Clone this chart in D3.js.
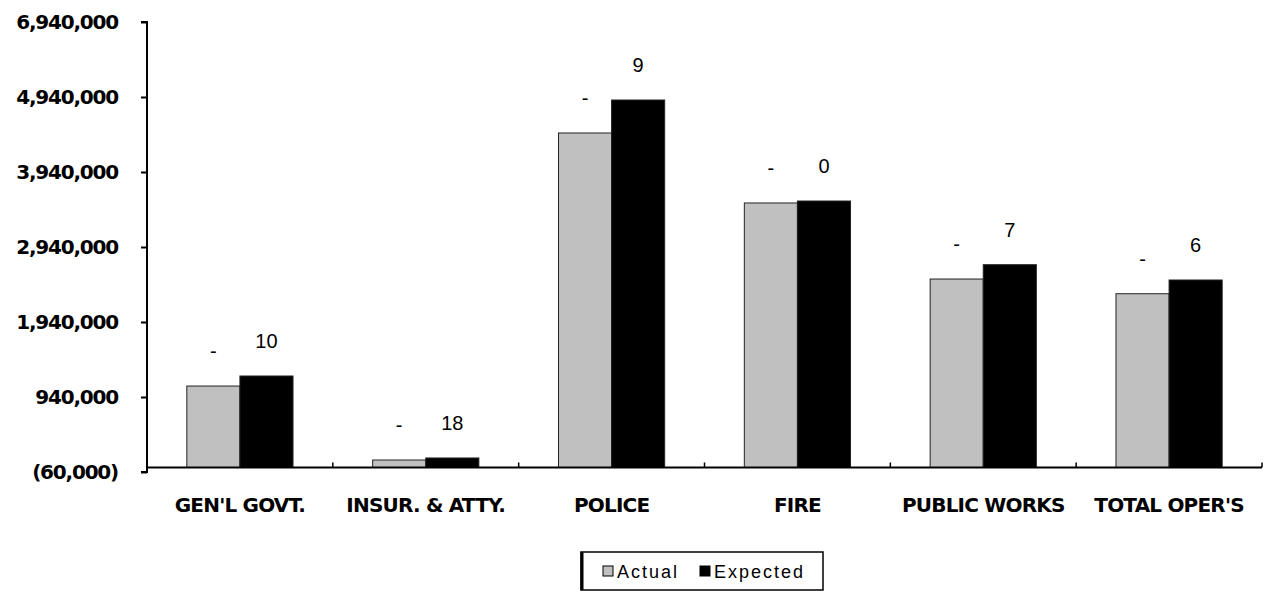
<!DOCTYPE html>
<html>
<head>
<meta charset="utf-8">
<script src="https://cdn.jsdelivr.net/npm/d3@7"></script>
<style>
  html, body { margin: 0; padding: 0; background: #fff; }
  svg { display: block; }
</style>
</head>
<body>
<svg id="chart" width="1272" height="591"></svg>
<script>
const categories = ["GEN'L GOVT.", "INSUR. & ATTY.", "POLICE", "FIRE", "PUBLIC WORKS", "TOTAL OPER'S"];
const series = ["Actual", "Expected"];
const actualValues = [1086000, 100000, 4460000, 3527000, 2513000, 2317000];
const expectedValues = [1220000, 127000, 4900000, 3553000, 2704000, 2500000];
const actualLabels = ["-", "-", "-", "-", "-", "-"];
const expectedLabels = ["10", "18", "9", "0", "7", "6"];
const tickValues = [-60000, 940000, 1940000, 2940000, 3940000, 4940000, 5940000];
const tickLabels = ["(60,000)", "940,000", "1,940,000", "2,940,000", "3,940,000", "4,940,000", "6,940,000"];
const seriesColors = ["#c0c0c0", "#000000"];

(function () {
const svg = d3.select("#chart");
const mLeft = 147, mRight = 1262, mTop = 22, mBottom = 472;
const boldFont = "DejaVu Sans, Verdana, sans-serif";
const plainFont = "Liberation Sans, Arial, sans-serif";

const y = d3.scaleLinear().domain([-60000, 5940000]).range([mBottom, mTop]);
const x0 = d3.scaleBand().domain(categories).range([mLeft, mRight]).paddingInner(0).paddingOuter(0);
const x1 = d3.scaleBand().domain(series).range([0, x0.bandwidth()]).paddingInner(0).paddingOuter(0.75);
const color = d3.scaleOrdinal().domain(series).range(seriesColors);

const data = categories.map((c, i) => ({
  cat: c,
  vals: [
    { s: "Actual", v: actualValues[i], label: actualLabels[i] },
    { s: "Expected", v: expectedValues[i], label: expectedLabels[i] }
  ]
}));

// bars
const groups = svg.append("g").selectAll("g").data(data).join("g")
  .attr("transform", d => `translate(${x0(d.cat)},0)`);

groups.selectAll("rect").data(d => d.vals).join("rect")
  .attr("x", d => x1(d.s))
  .attr("y", d => y(Math.max(0, d.v)))
  .attr("width", x1.bandwidth())
  .attr("height", d => Math.abs(y(d.v) - y(0)))
  .attr("fill", d => color(d.s))
  .attr("stroke", "#222")
  .attr("stroke-width", 1);

groups.selectAll("text").data(d => d.vals).join("text")
  .attr("x", d => x1(d.s) + x1.bandwidth() / 2)
  .attr("y", d => y(d.v) - 28)
  .attr("text-anchor", "middle")
  .attr("font-family", plainFont)
  .attr("font-size", 20)
  .attr("fill", "#000")
  .text(d => d.label);

// y axis
const yAxis = d3.axisLeft(y).tickValues(tickValues).tickSize(6).tickPadding(23)
  .tickFormat((d, i) => tickLabels[i]);
const gy = svg.append("g").attr("transform", `translate(${mLeft},0)`).call(yAxis);
gy.select(".domain").attr("stroke", "#000").attr("stroke-width", 2).attr("d", `M-6,${mTop}H0V${mBottom}H-6`);
gy.selectAll(".tick line").attr("stroke", "#000").attr("stroke-width", 2);
gy.selectAll(".tick text")
  .attr("font-family", boldFont)
  .attr("font-size", 20)
  .attr("font-weight", "bold")
  .attr("letter-spacing", "-1.2")
  .attr("fill", "#000");

// x axis at zero
const xAxis = d3.axisBottom(x0).tickSize(0).tickPadding(30);
const gx = svg.append("g").attr("transform", `translate(0,${y(0)})`).call(xAxis);
gx.select(".domain").attr("stroke", "#000").attr("stroke-width", 2).attr("d", `M${mLeft},0H${mRight}`);
gx.selectAll(".tick text")
  .attr("font-family", boldFont)
  .attr("font-size", 20)
  .attr("font-weight", "bold")
  .attr("letter-spacing", "-0.8")
  .attr("fill", "#000");
const bounds = categories.map(c => x0(c) + x0.bandwidth());
gx.append("g").selectAll("line").data(bounds).join("line")
  .attr("x1", d => d).attr("x2", d => d)
  .attr("y1", 0).attr("y2", -5)
  .attr("stroke", "#000").attr("stroke-width", 1.5);

// legend
const lg = svg.append("g").attr("transform", "translate(581,552)");
lg.append("rect").attr("x", 0).attr("y", 0).attr("width", 242).attr("height", 38)
  .attr("fill", "#fff").attr("stroke", "#000").attr("stroke-width", 1.5);
lg.append("line").attr("x1", 1).attr("x2", 1).attr("y1", 0).attr("y2", 38).attr("stroke", "#000").attr("stroke-width", 3);
const legendX = [22, 119];
series.forEach((s, i) => {
  lg.append("rect").attr("x", legendX[i]).attr("y", 14).attr("width", 10).attr("height", 10)
    .attr("fill", color(s)).attr("stroke", "#000").attr("stroke-width", 1);
  lg.append("text").attr("x", legendX[i] + 14).attr("y", 26)
    .attr("font-family", plainFont)
    .attr("font-size", 18)
    .attr("letter-spacing", "2")
    .attr("fill", "#000")
    .text(s);
});
})();
</script>
</body>
</html>
